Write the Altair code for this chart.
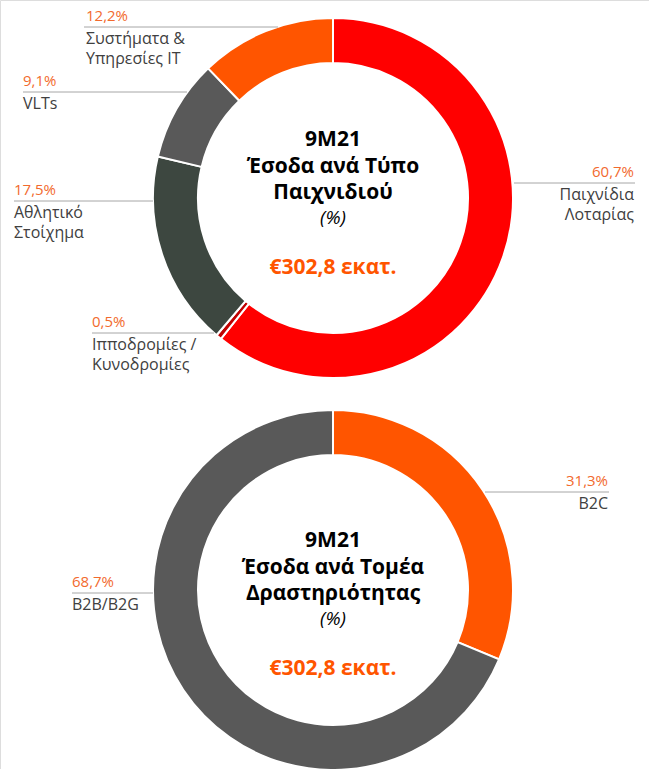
import altair as alt
import pandas as pd

# ---- data -------------------------------------------------------------
game_types = ["Παιχνίδια Λοταρίας", "Ιπποδρομίες / Κυνοδρομίες", "Αθλητικό Στοίχημα",
              "VLTs", "Συστήματα & Υπηρεσίες IT"]
game_shares = [60.7, 0.5, 17.5, 9.1, 12.2]
game_pct_labels = ["60,7%", "0,5%", "17,5%", "9,1%", "12,2%"]
game_name_labels = ["Παιχνίδια\nΛοταρίας", "Ιπποδρομίες /\nΚυνοδρομίες", "Αθλητικό\nΣτοίχημα",
                    "VLTs", "Συστήματα &\nΥπηρεσίες IT"]

sectors = ["B2C", "B2B/B2G"]
sector_shares = [31.3, 68.7]
sector_pct_labels = ["31,3%", "68,7%"]
sector_name_labels = ["B2C", "B2B/B2G"]

top_title = ["9M21", "Έσοδα ανά Τύπο", "Παιχνιδιού"]
bottom_title = ["9M21", "Έσοδα ανά Τομέα", "Δραστηριότητας"]
unit_label = "(%)"
total_label = "€302,8 εκατ."

# ---- styles / layout ---------------------------------------------------
game_colors = ["#FF0000", "#C00000", "#3D4740", "#595959", "#FF5500"]
sector_colors = ["#FF5500", "#595959"]
PCT_COLOR = "#F26A2E"
NAME_COLOR = "#404040"
LINE_COLOR = "#A6A6A6"
FONT = "Open Sans"
W, H = 649, 769
CX = 333
CY_TOP, CY_BOT = 198, 590
R_OUT, R_IN = 180, 135

# leader-line layout: (x_start, x_end, y, text_x, align)
game_layout = [(514, 635, 183, 634, "right"),
               (92, 214, 333, 92, "left"),
               (14, 153, 201, 14, "left"),
               (23, 187, 92, 23, "left"),
               (84, 278, 27, 86, "left")]
sector_layout = [(485, 609, 492, 608, "right"),
                 (72, 153, 593, 72, "left")]


def donut(cats, shares, colors, cy):
    df = pd.DataFrame({"cat": cats, "share": shares, "ord": list(range(len(cats)))})
    return alt.Chart(df).mark_arc(
        outerRadius=R_OUT, innerRadius=R_IN, stroke="white", strokeWidth=2
    ).encode(
        theta=alt.Theta("share:Q", stack=True),
        order=alt.Order("ord:Q", sort="ascending"),
        color=alt.Color("cat:N", scale=alt.Scale(domain=cats, range=colors), legend=None),
        x=alt.value(CX), y=alt.value(cy),
    )


def labels(pcts, names, layout):
    df = pd.DataFrame({
        "pct": pcts, "name": names,
        "x1": [l[0] for l in layout], "x2": [l[1] for l in layout],
        "ly": [l[2] for l in layout], "tx": [l[3] for l in layout],
        "align": [l[4] for l in layout],
    })
    df["py"] = df["ly"] - 6
    df["ny"] = df["ly"] + 4
    base = alt.Chart(df)
    rule = base.mark_rule(color=LINE_COLOR, strokeWidth=1).encode(
        x=alt.X("x1:Q", scale=None), x2="x2:Q", y=alt.Y("ly:Q", scale=None))
    layers = [rule]
    for al in ["left", "right"]:
        sub = base.transform_filter(alt.datum.align == al)
        layers.append(sub.mark_text(align=al, baseline="alphabetic", font=FONT, fontSize=15,
                                    color=PCT_COLOR).encode(
            x=alt.X("tx:Q", scale=None), y=alt.Y("py:Q", scale=None), text="pct:N"))
        layers.append(sub.mark_text(align=al, baseline="top", font=FONT, fontSize=16,
                                    color=NAME_COLOR, lineBreak="\n", lineHeight=20).encode(
            x=alt.X("tx:Q", scale=None), y=alt.Y("ny:Q", scale=None), text="name:N"))
    return layers


def center(title_lines, cy, shift):
    df = pd.DataFrame({"t": ["\n".join(title_lines)], "u": [unit_label], "tot": [total_label]})
    base = alt.Chart(df)
    t = base.mark_text(align="center", baseline="middle", font=FONT, fontSize=21,
                       fontWeight="bold", color="#000000", lineBreak="\n", lineHeight=26.5).encode(
        x=alt.value(CX), y=alt.value(cy - 58 + shift), text="t:N")
    u = base.mark_text(align="center", baseline="middle", font=FONT, fontSize=19,
                       fontStyle="italic", color="#000000").encode(
        x=alt.value(CX), y=alt.value(cy + 20 + shift), text="u:N")
    tot = base.mark_text(align="center", baseline="middle", font=FONT, fontSize=21,
                         fontWeight="bold", color="#FF5500").encode(
        x=alt.value(CX), y=alt.value(cy + 70 + shift), text="tot:N")
    return [t, u, tot]


layers = [donut(game_types, game_shares, game_colors, CY_TOP),
          donut(sectors, sector_shares, sector_colors, CY_BOT)]
layers += labels(game_pct_labels, game_name_labels, game_layout)
layers += labels(sector_pct_labels, sector_name_labels, sector_layout)
layers += center(top_title, CY_TOP, 0)
layers += center(bottom_title, CY_BOT, 9)

chart = alt.layer(*layers).resolve_scale(
    theta="independent", color="independent"
).properties(
    width=W, height=H, padding=0, autosize=alt.AutoSizeParams(type="none")
).configure_view(stroke=None).configure(background="white")

chart.save("out.html", embed_options={"renderer": "svg", "actions": False})
